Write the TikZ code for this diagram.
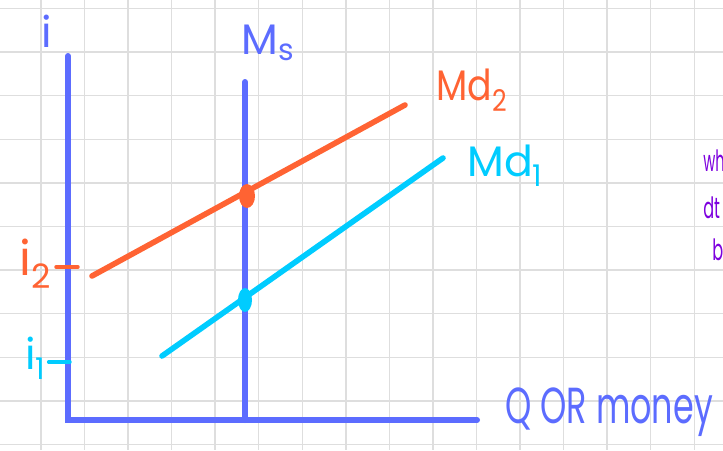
\documentclass[tikz,border=0pt]{standalone}
\usepackage{graphicx}
\usepackage{fontspec}
\setmainfont{Poppins}
\usetikzlibrary{positioning, shapes.geometric}
\definecolor{axisblue}{RGB}{92,108,255}
\definecolor{mdorange}{RGB}{255,99,51}
\definecolor{mdcyan}{RGB}{0,204,255}
\definecolor{notepurple}{RGB}{125,0,222}
\definecolor{gridgrey}{RGB}{222,222,222}

\begin{document}
\begin{tikzpicture}[x=0.75pt, y=-0.75pt,
  every node/.style={inner sep=0pt},
  axis/.style={axisblue, line width=4.5pt, line cap=round},
  curve/.style={line width=4.2pt, line cap=round},
  tick/.style={line width=2.6pt, line cap=round},
  hand/.style={font=\fontsize{32}{32}\selectfont},
  note/.style={font=\fontsize{22}{22}\selectfont, color=notepurple, anchor=west},
  dot/.style={ellipse, minimum width=12pt, minimum height=18pt, fill}]
\useasboundingbox (0,0) rectangle (723,450);
\foreach \gx in {0,...,15}
  \draw[gridgrey, line width=1.1pt] ({41+43.55*\gx},0) -- ++(0,450);
\foreach \gy in {0,...,10}
  \draw[gridgrey, line width=1.1pt] (0,{8.5+43.6*\gy}) -- ++(723,0);

\coordinate (itop) at (68,56);
\coordinate (origin) at (68,420);
\coordinate (qend) at (477,420);
\coordinate (mstop) at (245,82);
\coordinate (msbot) at (245,420);
\draw[axis] (itop) -- (origin) -- (qend);
\draw[axis] (mstop) -- (msbot);

\coordinate (mdtwoa) at (92,276);
\coordinate (mdtwob) at (405,105);
\coordinate (mdonea) at (162,356);
\coordinate (mdoneb) at (443,158);
\draw[curve, mdorange] (mdtwoa) -- (mdtwob);
\draw[curve, mdcyan] (mdonea) -- (mdoneb);
\node[dot, mdorange] (eqtwo) at (247,196) {};
\node[dot, mdcyan, minimum width=10.5pt] (eqone) at (245,300) {};

\node[hand, axisblue, above left=6pt and 12pt of itop] (ilbl) {i};
\node[hand, axisblue, above right=16pt and -3pt of mstop] (mslbl) {M\textsubscript{s}};
\node[hand, mdorange, anchor=west] (mdtwolbl) at (436,90) {\scalebox{0.85}[1]{Md\textsubscript{2}}};
\node[hand, mdcyan, anchor=west] (mdonelbl) at (467,166) {Md\textsubscript{1}};
\node[hand, mdorange, anchor=east, font=\fontsize{36}{36}\selectfont] (itwolbl) at (52,264) {i\textsubscript{2}};
\node[hand, mdcyan, anchor=east] (ionelbl) at (46,358) {i\textsubscript{1}};
\coordinate (itwotick) at (78,267);
\coordinate (ionetick) at (70,362);
\draw[tick, mdorange] ([xshift=3pt]itwolbl.east |- itwotick) -- (itwotick);
\draw[tick, mdcyan] ([xshift=2pt]ionelbl.east |- ionetick) -- (ionetick);
\node[hand, axisblue, anchor=west, font=\fontsize{38}{38}\selectfont] (qlbl) at (505,412)
  {\scalebox{0.66}[1]{Q OR money}};

\node[note] (notea) at (703,161) {\scalebox{0.5}[1]{wh}};
\node[note] (noteb) at (703,208) {\scalebox{0.55}[1]{dt}};
\node[note] (notec) at (712,250) {\scalebox{0.55}[1]{b}};
\end{tikzpicture}
\end{document}
